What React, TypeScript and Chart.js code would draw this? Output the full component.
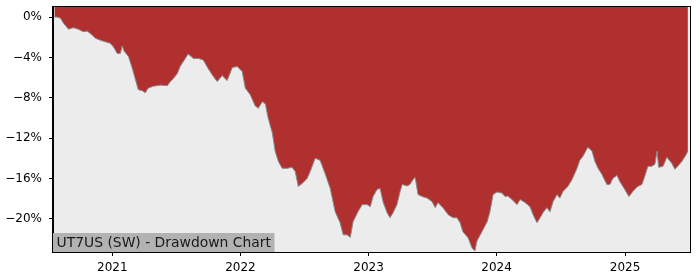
import React, { useEffect, useRef } from "react";
import { Chart, registerables } from "chart.js";

Chart.register(...registerables);

const dates: string[] = [
  "2020-07-20", "2020-07-28", "2020-08-06", "2020-08-15", "2020-08-29", "2020-09-12", "2020-09-26",
  "2020-10-10", "2020-10-22", "2020-11-05", "2020-11-14", "2020-11-28", "2020-12-12", "2020-12-26",
  "2021-01-04", "2021-01-15", "2021-01-24", "2021-01-29", "2021-02-04", "2021-02-16", "2021-02-27",
  "2021-03-07", "2021-03-16", "2021-03-27", "2021-04-05", "2021-04-13", "2021-04-28", "2021-05-18",
  "2021-06-07", "2021-06-15", "2021-06-24", "2021-07-05", "2021-07-14", "2021-07-28", "2021-08-05",
  "2021-08-20", "2021-09-03", "2021-09-17", "2021-10-01", "2021-10-16", "2021-10-27", "2021-11-10",
  "2021-11-24", "2021-12-09", "2021-12-23", "2022-01-06", "2022-01-15", "2022-01-29", "2022-02-12",
  "2022-02-21", "2022-03-04", "2022-03-13", "2022-03-21", "2022-04-02", "2022-04-10", "2022-04-19",
  "2022-04-30", "2022-05-14", "2022-05-28", "2022-06-06", "2022-06-15", "2022-06-26", "2022-07-10",
  "2022-07-19", "2022-08-02", "2022-08-16", "2022-08-30", "2022-09-14", "2022-09-28", "2022-10-12",
  "2022-10-21", "2022-11-01", "2022-11-10", "2022-11-18", "2022-12-02", "2022-12-14", "2022-12-28",
  "2023-01-06", "2023-01-14", "2023-01-25", "2023-02-03", "2023-02-12", "2023-02-23", "2023-03-03",
  "2023-03-12", "2023-03-23", "2023-04-01", "2023-04-07", "2023-04-21", "2023-04-29", "2023-05-08",
  "2023-05-14", "2023-05-22", "2023-06-03", "2023-06-17", "2023-07-01", "2023-07-10", "2023-07-18",
  "2023-08-01", "2023-08-16", "2023-08-30", "2023-09-10", "2023-09-19", "2023-09-27", "2023-10-12",
  "2023-10-23", "2023-10-31", "2023-11-06", "2023-11-20", "2023-12-05", "2023-12-13", "2023-12-22",
  "2024-01-02", "2024-01-16", "2024-01-25", "2024-02-02", "2024-02-14", "2024-02-28", "2024-03-08",
  "2024-03-22", "2024-04-05", "2024-04-14", "2024-04-25", "2024-05-04", "2024-05-12", "2024-05-23",
  "2024-06-01", "2024-06-10", "2024-06-21", "2024-06-29", "2024-07-08", "2024-07-22", "2024-08-03",
  "2024-08-17", "2024-08-25", "2024-09-03", "2024-09-17", "2024-09-29", "2024-10-07", "2024-10-16",
  "2024-10-27", "2024-11-10", "2024-11-19", "2024-11-27", "2024-12-09", "2024-12-17", "2024-12-31",
  "2025-01-12", "2025-01-23", "2025-02-06", "2025-02-18", "2025-02-26", "2025-03-07", "2025-03-18",
  "2025-03-27", "2025-04-02", "2025-04-07", "2025-04-19", "2025-04-30", "2025-05-14", "2025-05-23",
  "2025-05-31", "2025-06-12", "2025-06-23", "2025-06-29",
];

const drawdown: number[] = [
  0.0, 0.0, -0.1, -0.6, -1.2, -1.05, -1.2,
  -1.45, -1.4, -1.8, -2.1, -2.3, -2.45, -2.6,
  -2.95, -3.6, -3.6, -2.85, -3.4, -3.9, -5.1,
  -6.1, -7.2, -7.3, -7.5, -7.05, -6.85, -6.75,
  -6.8, -6.4, -6.1, -5.6, -4.85, -4.1, -3.65,
  -4.1, -4.1, -4.25, -5.1, -5.9, -6.4, -5.8,
  -6.3, -5.0, -4.9, -5.4, -7.05, -7.7, -8.8,
  -9.05, -8.4, -8.6, -10.0, -11.5, -13.3, -14.3,
  -15.0, -15.0, -14.9, -15.3, -16.8, -16.5, -16.0,
  -15.3, -14.0, -14.2, -15.5, -17.0, -19.3, -20.4,
  -21.6, -21.6, -21.85, -20.3, -19.3, -18.6, -18.6,
  -18.8, -17.8, -17.1, -17.0, -18.4, -19.4, -19.9,
  -19.4, -18.6, -17.3, -16.6, -16.75, -16.6, -16.1,
  -15.9, -17.6, -17.8, -17.95, -18.3, -18.9, -18.4,
  -18.9, -19.6, -19.9, -19.9, -20.4, -21.3, -21.9,
  -22.9, -23.2, -22.2, -21.3, -20.3, -19.3, -17.6,
  -17.35, -17.45, -17.8, -17.75, -18.1, -18.6, -18.1,
  -18.4, -18.8, -19.6, -20.4, -19.9, -19.4, -18.9,
  -19.3, -18.3, -17.6, -17.95, -17.3, -16.8, -16.1,
  -15.0, -14.2, -13.8, -12.9, -13.3, -14.3, -15.0,
  -15.6, -16.6, -16.6, -16.0, -15.7, -16.3, -17.1,
  -17.8, -17.3, -16.8, -16.6, -15.8, -14.8, -14.8,
  -14.6, -13.3, -14.9, -14.8, -13.9, -14.5, -15.1,
  -14.8, -14.3, -13.7, -13.3,
];

const yTickValues: number[] = [-20, -16, -12, -8, -4, 0];
const yearTicks: number[] = [2021, 2022, 2023, 2024, 2025];
const xRange: string[] = ["2020-07-16", "2025-07-05"];
const yRange: number[] = [-23.3, 1.0];
const chartTitle = "UT7US (SW) - Drawdown Chart";

const toMs = (s: string) => Date.parse(s + "T00:00:00Z");

const FONT = "'DejaVu Sans', sans-serif";

const framePlugin = {
  id: "frame",
  beforeDraw(chart: any) {
    const { ctx, chartArea: a } = chart;
    ctx.save();
    ctx.fillStyle = "#ececec";
    ctx.fillRect(a.left, a.top, a.right - a.left, a.bottom - a.top);
    ctx.restore();
  },
  afterDraw(chart: any) {
    const { ctx, chartArea: a } = chart;
    ctx.save();
    ctx.font = `13.9px ${FONT}`;
    const w = ctx.measureText(chartTitle).width;
    const h = 19;
    ctx.fillStyle = "#b2b2b2";
    ctx.fillRect(a.left, a.bottom - h, w + 7, h);
    ctx.fillStyle = "#1a1a1a";
    ctx.textBaseline = "middle";
    ctx.textAlign = "left";
    ctx.fillText(chartTitle, a.left + 3.5, a.bottom - h / 2 + 0.5);
    ctx.strokeStyle = "#000";
    ctx.lineWidth = 1;
    ctx.strokeRect(Math.round(a.left) - 0.5, Math.round(a.top) - 0.5, Math.round(a.right - a.left) + 1, Math.round(a.bottom - a.top) + 1);
    ctx.restore();
  },
};

export default function App() {
  const ref = useRef<HTMLCanvasElement | null>(null);

  useEffect(() => {
    if (!ref.current) return;
    const points = dates.map((d, i) => ({ x: toMs(d), y: drawdown[i] }));
    const chart = new Chart(ref.current, {
      type: "line",
      data: {
        datasets: [
          {
            data: points,
            borderColor: "#8a8a8a",
            borderWidth: 1,
            backgroundColor: "#b03030",
            fill: "end",
            pointRadius: 0,
            tension: 0,
          },
        ],
      },
      options: {
        animation: false,
        responsive: false,
        devicePixelRatio: 1,
        layout: { padding: { top: 7, right: 10, left: 0, bottom: 0 } },
        plugins: {
          legend: { display: false },
          tooltip: { enabled: false },
        },
        scales: {
          x: {
            type: "linear",
            min: toMs(xRange[0]),
            max: toMs(xRange[1]),
            afterBuildTicks: (scale: any) => {
              scale.ticks = yearTicks.map((y) => ({ value: Date.UTC(y, 0, 1) }));
            },
            afterFit: (scale: any) => {
              scale.height = 28;
              scale.paddingLeft = 0;
              scale.paddingRight = 0;
            },
            ticks: {
              autoSkip: false,
              maxRotation: 0,
              padding: 5,
              color: "#000",
              font: { family: FONT, size: 12 },
              callback: (v: any) => String(new Date(Number(v)).getUTCFullYear()),
            },
            grid: { display: true, drawOnChartArea: false, drawTicks: true, tickLength: 4, color: "#000" },
            border: { display: true, color: "#000", width: 1 },
          },
          y: {
            type: "linear",
            min: yRange[0],
            max: yRange[1],
            afterBuildTicks: (scale: any) => {
              scale.ticks = yTickValues.map((v) => ({ value: v }));
            },
            afterFit: (scale: any) => {
              scale.width = 53;
              scale.paddingTop = 0;
              scale.paddingBottom = 0;
            },
            ticks: {
              padding: 7,
              color: "#000",
              font: { family: FONT, size: 12 },
              callback: (v: any) => (Number(v) < 0 ? "\u2212" : "") + Math.abs(Number(v)) + "%",
            },
            grid: { display: true, drawOnChartArea: false, drawTicks: true, tickLength: 4, color: "#000" },
            border: { display: true, color: "#000", width: 1 },
          },
        },
      },
      plugins: [framePlugin],
    } as any);
    return () => chart.destroy();
  }, []);

  return (
    <div style={{ position: "fixed", left: 0, top: 0, width: 700, height: 280, background: "#fff" }}>
      <canvas ref={ref} width={700} height={280} style={{ width: 700, height: 280, display: "block" }} />
    </div>
  );
}
